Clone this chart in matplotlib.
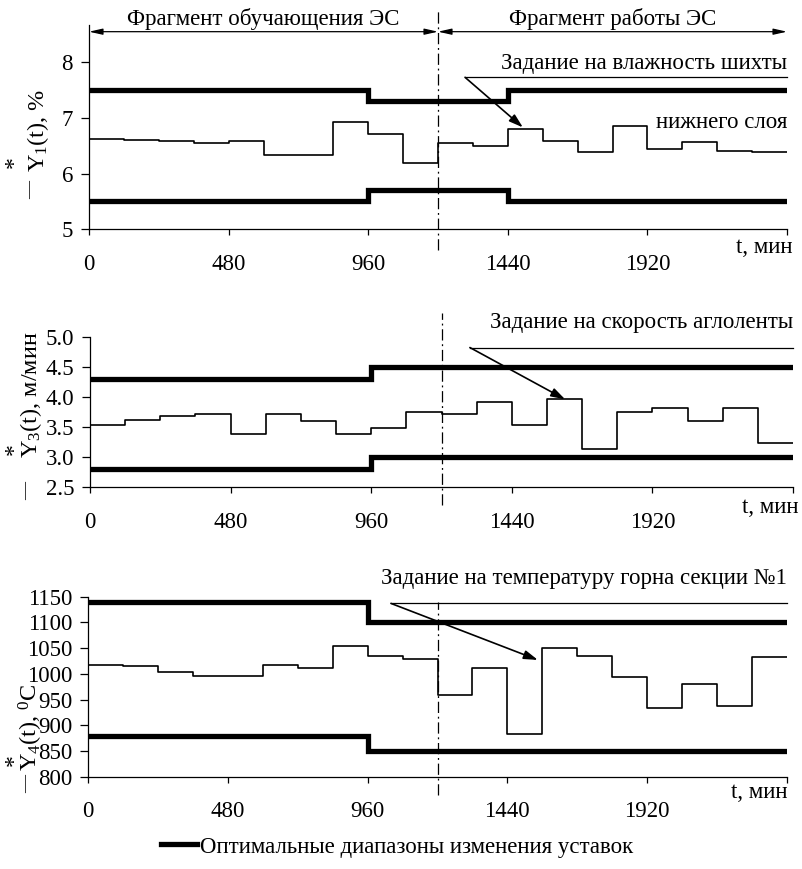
import matplotlib
matplotlib.use("Agg")
import matplotlib.pyplot as plt
from matplotlib.lines import Line2D

plt.rcParams["font.family"] = ["Liberation Serif", "DejaVu Serif"]
plt.rcParams["mathtext.fontset"] = "custom"
plt.rcParams["mathtext.rm"] = "Liberation Serif"
plt.rcParams["mathtext.it"] = "Liberation Serif:italic"

# ---- data -------------------------------------------------------------
T_END = 2400
seg_start = [0, 120, 240, 360, 480, 600, 720, 840, 960, 1080,
             1200, 1320, 1440, 1560, 1680, 1800, 1920, 2040, 2160, 2280]

# moisture of the lower layer charge, %
y1 = [6.63, 6.61, 6.58, 6.55, 6.59, 6.33, 6.33, 6.93, 6.71, 6.19,
      6.55, 6.50, 6.80, 6.59, 6.38, 6.86, 6.45, 6.56, 6.40, 6.38]
# sinter strand speed, m/min
y3 = [3.53, 3.61, 3.69, 3.72, 3.38, 3.72, 3.60, 3.38, 3.48, 3.75,
      3.72, 3.92, 3.53, 3.96, 3.13, 3.75, 3.81, 3.60, 3.81, 3.23]
# hearth temperature, section 1, deg C
y4 = [1017, 1015, 1004, 996, 996, 1017, 1012, 1054, 1035, 1028,
      959, 1011, 884, 1050, 1035, 993, 933, 981, 938, 1032]

# optimal setpoint ranges (piecewise constant)
bound_t = [0, 960, 1440]
y1_hi = [7.5, 7.3, 7.5]
y1_lo = [5.5, 5.7, 5.5]
y3_hi = [4.3, 4.5, 4.5]
y3_lo = [2.8, 3.0, 3.0]
y4_hi = [1140, 1100, 1100]
y4_lo = [880, 850, 850]

x_ticks = [0, 480, 960, 1440, 1920, 2400]
x_ticklabels = ["0", "480", "960", "1440", "1920", ""]
t_switch = 1200  # training -> operation

FS_TICK = 16.5
FS_TEXT = 16.5
FS_LABEL = 17.5

W, H = 802, 869
fig = plt.figure(figsize=(W / 100, H / 100), dpi=100)


def px_axes(left, top, right, bottom):
    return fig.add_axes([left / W, 1 - bottom / H, (right - left) / W, (bottom - top) / H])


ax1 = px_axes(89, 25, 787, 229.3)
ax2 = px_axes(90, 336.7, 793, 487.3)
ax3 = px_axes(88.3, 596.7, 786.7, 776.7)


def step_series(ax, starts, vals, **kw):
    xs = list(starts) + [T_END]
    ys = list(vals) + [vals[-1]]
    ax.step(xs, ys, where="post", **kw)


def style(ax, ylim, yticks, fmt, tlabel_dx, tlabel_dy, dash_span):
    ax.set_xlim(0, T_END)
    ax.set_ylim(*ylim)
    ax.set_xticks(x_ticks)
    ax.set_xticklabels(x_ticklabels)
    ax.set_yticks(yticks)
    ax.set_yticklabels([fmt.format(v) for v in yticks])
    for s in ("top", "right"):
        ax.spines[s].set_visible(False)
    for s in ("left", "bottom"):
        ax.spines[s].set_linewidth(0.9)
    ax.tick_params(axis="x", direction="out", length=4.5, width=0.9, pad=13,
                   labelsize=FS_TICK)
    ax.tick_params(axis="y", direction="out", length=5.5, width=0.9, pad=6,
                   labelsize=FS_TICK)
    ax.annotate("t, мин", xy=(1, 0), xycoords="axes fraction",
                xytext=(tlabel_dx, tlabel_dy), textcoords="offset pixels",
                ha="right", va="baseline", fontsize=FS_TEXT)
    ax.axvline(t_switch, ymin=dash_span[0], ymax=dash_span[1], color="black",
               lw=0.9, dashes=(9, 3, 1.5, 3), clip_on=False)


def draw_panel(ax, vals, hi, lo):
    step_series(ax, seg_start, vals, color="black", lw=1.2)
    step_series(ax, bound_t, hi, color="black", lw=3.8, solid_capstyle="round",
                solid_joinstyle="miter")
    step_series(ax, bound_t, lo, color="black", lw=3.8, solid_capstyle="round",
                solid_joinstyle="miter")


def callout(ax, text, text_y, line_t0, line_y, tip_t, tip_y):
    ax.text(T_END, text_y, text, ha="right", va="center", fontsize=FS_TEXT,
            clip_on=False)
    ax.plot([line_t0, T_END], [line_y, line_y], color="black", lw=0.9,
            clip_on=False)
    ax.annotate("", xy=(tip_t, tip_y), xytext=(line_t0, line_y),
                arrowprops=dict(arrowstyle="-|>,head_length=0.7,head_width=0.22",
                                color="black", lw=1.2, shrinkA=0, shrinkB=0,
                                mutation_scale=12),
                annotation_clip=False)


# ---- panel 1: moisture ------------------------------------------------
draw_panel(ax1, y1, y1_hi, y1_lo)
style(ax1, (5, 8.67), [5, 6, 7, 8], "{:.0f}", 6, -24, (-0.10, 1.075))
callout(ax1, "Задание на влажность шихты", 7.98, 1293, 7.73, 1492, 6.83)
ax1.text(T_END, 6.91, "нижнего слоя", ha="right", va="center",
         fontsize=FS_TEXT, clip_on=False)

# phase headers with double arrows
for a, b, name in [(0, t_switch, "Фрагмент обучающения ЭС"),
                   (t_switch, T_END, "Фрагмент работы ЭС")]:
    ax1.annotate("", xy=(a, 8.55), xytext=(b, 8.55),
                 arrowprops=dict(arrowstyle="<|-|>,head_length=0.8,head_width=0.18",
                                 color="black", lw=0.9, shrinkA=0, shrinkB=0,
                                 mutation_scale=10),
                 annotation_clip=False)
    ax1.text((a + b) / 2, 8.67, name, ha="center", va="baseline",
             fontsize=FS_TEXT, clip_on=False)

# ---- panel 2: strand speed --------------------------------------------
draw_panel(ax2, y3, y3_hi, y3_lo)
style(ax2, (2.5, 5.0), [2.5, 3.0, 3.5, 4.0, 4.5, 5.0], "{:.1f}", 5, -26,
      (-0.12, 1.16))
callout(ax2, "Задание на скорость аглоленты", 5.23, 1297, 4.82, 1622, 3.96)

# ---- panel 3: hearth temperature --------------------------------------
draw_panel(ax3, y4, y4_hi, y4_lo)
style(ax3, (800, 1150), list(range(800, 1151, 50)), "{:d}", 1, -21,
      (-0.10, 0.97))
callout(ax3, "Задание на температуру горна секции №1", 1185, 1040, 1137,
        1545, 1027)

# ---- y labels: line sample, starred symbol, units ------------------------
# (body text, baseline x, start y, star y, dash x, dash y) in pixels
ylabels = [
    (r"$\mathrm{Y}_{\mathrm{1}}$(t), %", 44, 172, 162, 31, 190),
    (r"$\mathrm{Y}_{\mathrm{3}}$(t), м/мин", 37.5, 458, 449, 27, 491),
    (r"$\mathrm{Y}_{\mathrm{4}}$(t), $^{\mathrm{0}}$C", 38, 771, 760, 27, 784),
]


def fpos(x, y):
    return x / W, 1 - y / H


for body, bx, sy, stary, dx, dy in ylabels:
    fig.text(*fpos(bx, sy), body, rotation=90, rotation_mode="anchor",
             ha="left", va="baseline", fontsize=FS_LABEL)
    fig.text(*fpos(14, stary), "*", rotation=90, rotation_mode="anchor",
             ha="center", va="center", fontsize=17)
    fig.text(*fpos(dx, dy), "—", rotation=90, rotation_mode="anchor",
             ha="center", va="center", fontsize=13)

# ---- legend -------------------------------------------------------------
fig.legend(handles=[Line2D([], [], color="black", lw=3.8)],
           labels=["Оптимальные диапазоны изменения уставок"],
           loc="center", bbox_to_anchor=(397 / W, 1 - 847 / H),
           frameon=False, fontsize=FS_TEXT, handlelength=1.6,
           handletextpad=0.12, borderpad=0)

fig.savefig("out.png", dpi=100)
